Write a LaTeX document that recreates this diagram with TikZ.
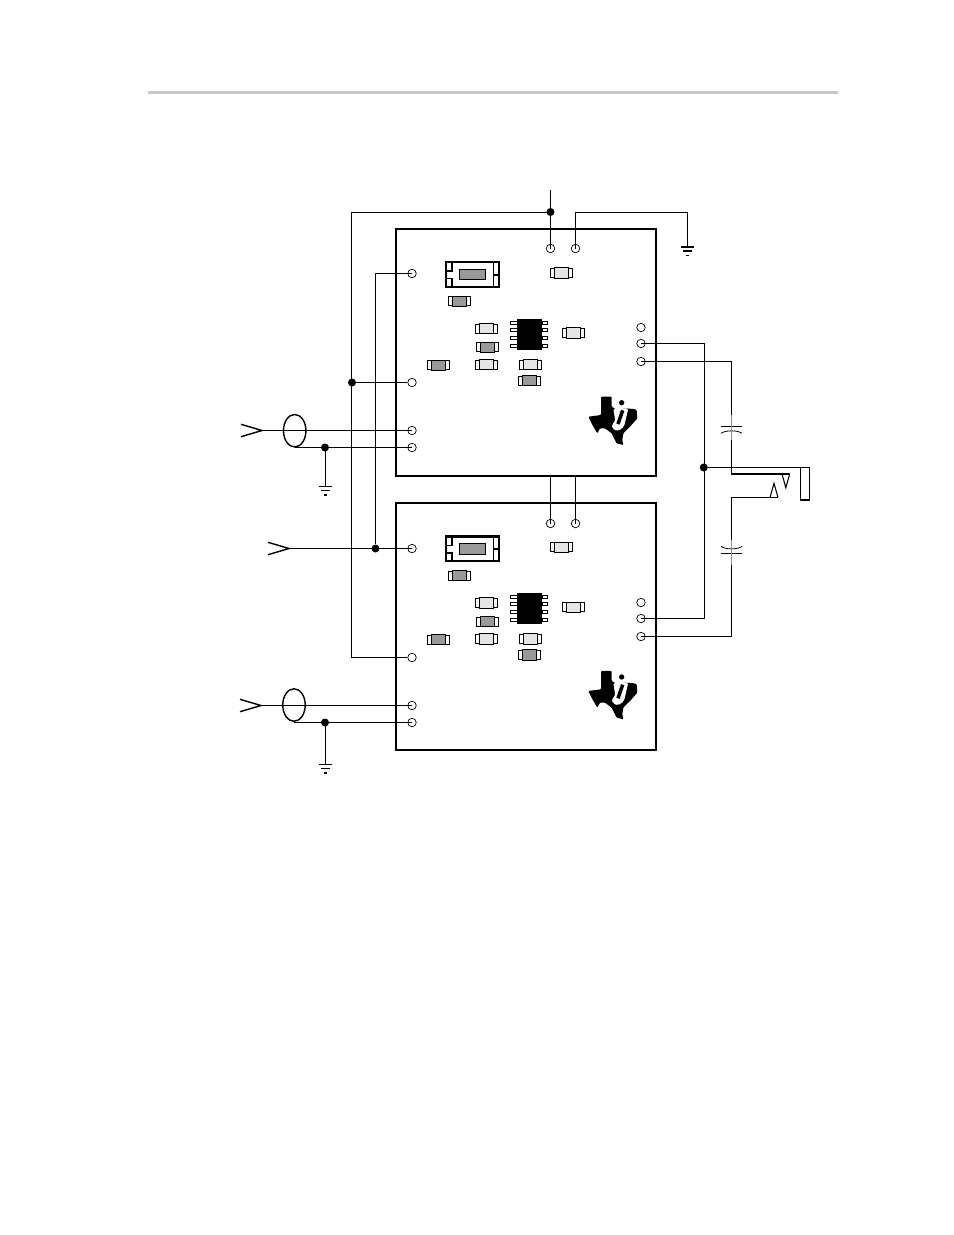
\documentclass[tikz,border=0pt]{standalone}
\usepackage{amsmath}
\usepackage{tikz}
\usetikzlibrary{shapes.geometric}

\newcommand{\smd}[3]{
	\draw[fill=white, line width=0.5pt] (#1-11, #2-4.5) rectangle (#1+11, #2+4.5);
	\draw[fill=#3, line width=0.5pt] (#1-7, #2-5.2) rectangle (#1+7, #2+5.2);
}

\tikzset{
	wire/.style = {line width=0.6pt},
	edge/.style = {line width=1.4pt},
	term/.style = {circle, draw, inner sep=0pt, minimum size=0.17cm, line width=0.4pt},
	dot/.style = {circle, fill=black, inner sep=0pt, minimum size=0.16cm},
	coax/.style = {ellipse, draw, inner sep=0pt, minimum width=0.45cm, minimum height=0.65cm, line width=0.8pt},
	parts/.pic = {
		%switch
		\draw[line width=0.9pt] (49.8, 33.3) rectangle (55.8, 42);
		\draw[line width=0.9pt] (49.8, 49.5) rectangle (55.8, 58);
		\draw[line width=0.9pt] (97.5, 33.3) rectangle (103.3, 58);
		\draw[line width=1.2pt] (97.5, 46) -- (103.3, 46);
		\draw[line width=1.3pt] (49.8, 33.3) rectangle (103.3, 58);
		\draw[fill=black!40, line width=0.5pt] (63.3, 40.3) rectangle (89.7, 50.7);
		
		%passives
		\smd{165}{44}{black!10}
		\smd{63}{72.3}{black!40}
		\smd{90.7}{99.7}{black!10}
		\smd{91}{118.3}{black!40}
		\smd{90.7}{135.7}{black!10}
		\smd{42}{136.3}{black!40}
		\smd{134}{135.7}{black!10}
		\smd{133.3}{151.7}{black!40}
		\smd{177.3}{104}{black!10}
		
		%ic
		\foreach \y in {93.7, 100.7, 108.7, 116.7} {
			\draw[fill=white, line width=0.5pt] (114.3, \y-1.4) rectangle (121, \y+1.4);
			\draw[fill=white, line width=0.5pt] (146, \y-1.4) rectangle (151.7, \y+1.4);
		}
		\fill[black] (121, 90) rectangle (146, 120.7);
		
		%logo
		\begin{scope}[shift={(179, 156)}, scale=0.3333]
			\fill[black, rounded corners=0.5pt] (78, 35) -- (110, 35) -- (110, 65) -- (125, 74) -- (150, 70) --
				(178, 72) -- (185, 75) -- (187, 100) -- (165, 125) -- (145, 145) -- (142, 165) --
				(145, 180) -- (125, 175) -- (110, 145) -- (90, 130) -- (75, 130) -- (67, 145) --
				(55, 125) -- (40, 95) -- (78, 90) -- cycle;
			\fill[white, rounded corners=1pt] (115, 70) -- (160, 70) -- (147, 125) -- (130, 138) -- (114, 133) --
				(110, 118) -- (121, 110) -- cycle;
			\draw[black, line width=2pt] (143, 76) -- (129, 117);
			\fill[black] (140, 53) circle (8);
		\end{scope}
	},
	terms/.pic = {
		\node[term] (-top1) at (154.5, 19.5) {};
		\node[term] (-top2) at (179.5, 19.5) {};
		\node[term] (-in1) at (16, 44.5) {};
		\node[term] (-in2) at (16, 153.5) {};
		\node[term] (-in3) at (16, 201.5) {};
		\node[term] (-in4) at (16, 218.5) {};
		\node[term] (-out1) at (245, 98.5) {};
		\node[term] (-out2) at (245, 114.5) {};
		\node[term] (-out3) at (245, 132.5) {};
	},
	gnd/.pic = {
		\draw[line width=0.6pt] (-6.8, 0) -- (6.8, 0);
		\draw[line width=0.6pt] (-4.2, 4) -- (4.2, 4);
		\draw[line width=0.6pt] (-1.7, 8.3) -- (1.7, 8.3);
		\coordinate (-top) at (0, 0);
	},
	cap/.pic = {
		\draw[line width=0.45pt] (-10.5, 0) -- (10.5, 0);
		\draw[line width=0.45pt] (-10.5, 7.3) .. controls (-6, 4) and (6, 4) .. (10.5, 7.3);
		\draw[black!45, line width=0.6pt] (0, -11) -- (0, 14);
		\coordinate (-a) at (0, -11);
		\coordinate (-b) at (0, 14);
	},
	sigin/.pic = {
		\draw[line width=0.8pt] (-21, -6.2) -- (0, 0) -- (-21, 6.2);
		\coordinate (-tip) at (0, 0);
	}
}

\begin{document}
\begin{tikzpicture}[x=0.02cm, y=-0.02cm]
\useasboundingbox (0, 0) rectangle (954, 1235);

%header rule
\draw[black!22, line width=1.6pt] (148, 92.7) coordinate (ruleL) -- (838, 92.7) coordinate (ruleR);

\draw[edge] (396, 229) coordinate (upperNW) rectangle (656, 476);
\draw[edge] (396, 503) coordinate (lowerNW) rectangle (656, 750);
\pic (upperparts) at (396, 229) {parts};
\pic (lowerparts) at (396, 503.3) {parts};
\pic (upper) at (396, 229) {terms};
\pic (lower) at (396, 504) {terms};

%supply
\coordinate (vcc) at (550.5, 190);
\node[dot] (jvcc) at (550.5, 212) {};
\node[dot] (jin2) at (352, 382.5) {};
\coordinate (c0) at (351.5, 212.5);
\pic (gtop) at (687.5, 247) {gnd};
\draw[wire] (vcc) -- (upper-top1.center);
\draw[wire] (jvcc) -- (jvcc |- c0) -- (c0) -- (lower-in2 -| c0) -- (lower-in2);
\draw[wire] (jin2) -- (upper-in2);
\coordinate (c1) at (575.5, 212.5);
\draw[wire] (upper-top2.center) -- (c1) -| (gtop-top);
\coordinate (d1) at (550.5, 476);
\coordinate (d2) at (575.5, 476);
\draw[wire] (d1) -- (lower-top1.center);
\draw[wire] (d2) -- (lower-top2.center);

%inputs
\pic (sig1) at (262, 430.5) {sigin};
\node[coax] (coax1) at (294.7, 430.7) {};
\node[dot] (jg1) at (325, 447.5) {};
\pic (g1) at (325.5, 486.7) {gnd};
\draw[wire] (sig1-tip) -- (upper-in3.center);
\draw[wire] (coax1.south |- jg1) -- (upper-in4.center);
\draw[wire] (g1-top |- jg1) -- (g1-top);

\pic (sig2) at (289, 548.5) {sigin};
\node[dot] (jsig2) at (375.5, 548.5) {};
\coordinate (c4) at (375.5, 273.5);
\draw[wire] (sig2-tip) -- (lower-in1.center);
\draw[wire] (jsig2) -- (c4) -- (upper-in1.center);

\pic (sig3) at (261, 705.5) {sigin};
\node[coax] (coax3) at (294, 705) {};
\node[dot] (jg3) at (325, 722.5) {};
\pic (g3) at (325.5, 764.7) {gnd};
\draw[wire] (sig3-tip) -- (lower-in3.center);
\draw[wire] (coax3.south |- jg3) -- (lower-in4.center);
\draw[wire] (g3-top |- jg3) -- (g3-top);

%outputs
\node[dot] (jout) at (703.8, 467.5) {};
\coordinate (c2) at (704.5, 343.5);
\coordinate (c3) at (704.5, 618.5);
\draw[wire] (upper-out2.center) -- (c2) -- (c3) -- (lower-out2.center);
\pic (cap1) at (731.5, 426) {cap};
\pic[yscale=-1] (cap2) at (731.5, 553.7) {cap};
\draw[wire] (upper-out3.center) -| (cap1-a);
\draw[wire] (lower-out3.center) -| (cap2-a);

%jack
\coordinate (tipL) at (731.5, 474);
\coordinate (ringL) at (731.5, 497.5);
\coordinate (sleeve) at (809.5, 467.5);
\draw[wire] (cap1-b) -- (tipL) -- (790, 474);
\draw[wire] (cap2-b) -- (ringL) -- (778, 497.5);
\draw[wire] (782, 474) -- (785.8, 487.7) -- (789.7, 474);
\draw[wire] (770, 497.5) -- (774, 483.3) -- (778, 497.5);
\draw[wire] (jout) -- (sleeve) -- (809.5, 500.3) -- (800.5, 500.3) -- (800.5, 467.5);
\draw[line width=1.1pt] (800.5, 500.3) -- (809.5, 500.3);

\end{tikzpicture}
\end{document}
